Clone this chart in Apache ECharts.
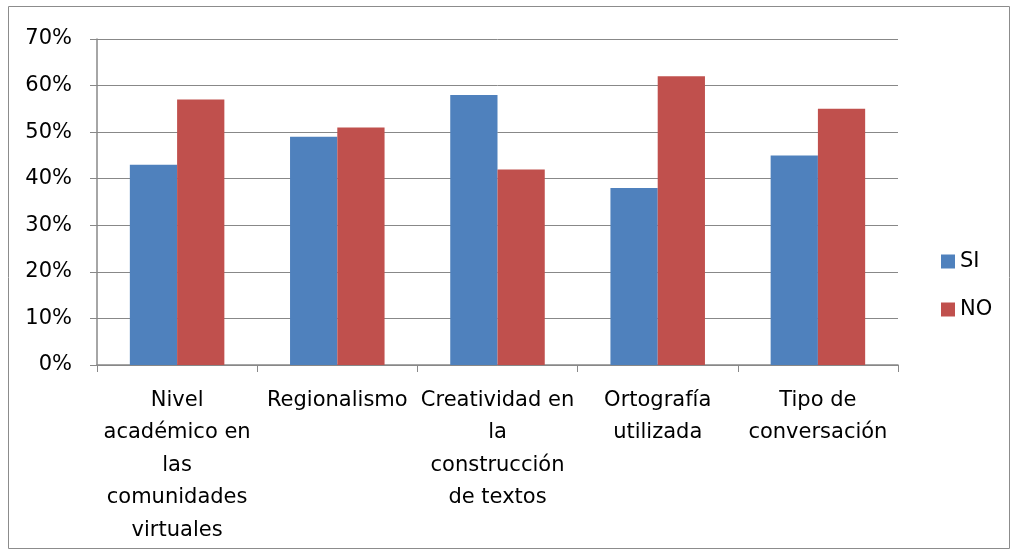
<!DOCTYPE html>
<html>
<head>
<meta charset="utf-8">
<script src="https://cdn.jsdelivr.net/npm/echarts@6/dist/echarts.min.js"></script>
<style>
  html, body { margin: 0; padding: 0; background: #fff; }
  #chart { width: 1013px; height: 553px; }
</style>
</head>
<body>
<div id="chart"></div>
<script>
// categorias (con saltos de linea como en el original)
const categories = [
  'Nivel\nacadémico en\nlas\ncomunidades\nvirtuales',
  'Regionalismo',
  'Creatividad en\nla\nconstrucción\nde textos',
  'Ortografía\nutilizada',
  'Tipo de\nconversación'
];
const siValues = [43, 49, 58, 38, 45];
const noValues = [57, 51, 42, 62, 55];
const yTicks = [0, 10, 20, 30, 40, 50, 60, 70];

const chart = echarts.init(document.getElementById('chart'));
const font = '"DejaVu Sans", sans-serif';

const option = {
  animation: false,
  textStyle: { fontFamily: font },
  graphic: [{
    type: 'rect',
    shape: { x: 8.5, y: 6.5, width: 1001, height: 542 },
    style: { fill: 'none', stroke: '#8c8c8c', lineWidth: 1 }
  }],
  legend: {
    orient: 'vertical',
    left: 936,
    top: 246,
    itemWidth: 14,
    itemHeight: 14,
    itemGap: 27,
    icon: 'rect',
    textStyle: { fontSize: 21, color: '#000', fontFamily: font },
    data: ['SI', 'NO']
  },
  grid: { left: 97, right: 115, top: 39, bottom: 188 },
  xAxis: {
    type: 'category',
    data: categories,
    axisLine: { lineStyle: { color: '#888', width: 1.5 } },
    axisTick: { show: true, length: 7, lineStyle: { color: '#888' } },
    axisLabel: {
      interval: 0,
      margin: 19,
      fontSize: 21,
      lineHeight: 32.5,
      color: '#000',
      align: 'center'
    }
  },
  yAxis: {
    type: 'value',
    min: 0,
    max: 70,
    interval: 10,
    axisLine: { show: true, lineStyle: { color: '#888', width: 1.5 } },
    axisTick: { show: true, length: 7, lineStyle: { color: '#888' } },
    splitLine: { lineStyle: { color: '#888', width: 1 } },
    axisLabel: {
      margin: 25,
      fontSize: 21,
      color: '#000',
      formatter: v => (yTicks.includes(v) ? v + '%' : '')
    }
  },
  series: [
    {
      name: 'SI',
      type: 'bar',
      data: siValues,
      barGap: '0%',
      barCategoryGap: '41%',
      itemStyle: { color: '#4f81bd' }
    },
    {
      name: 'NO',
      type: 'bar',
      data: noValues,
      barGap: '0%',
      barCategoryGap: '41%',
      itemStyle: { color: '#c0504d' }
    }
  ]
};

chart.setOption(option);
</script>
</body>
</html>
